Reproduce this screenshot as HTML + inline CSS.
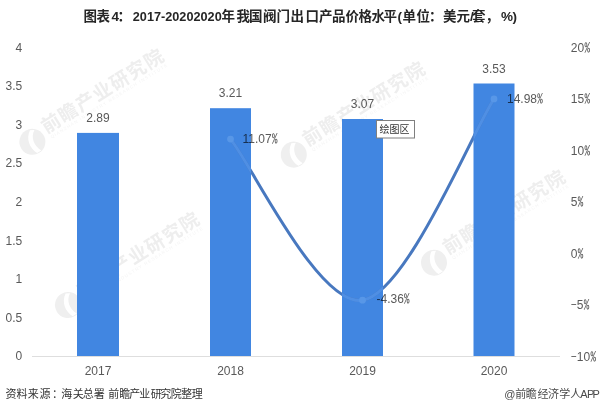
<!DOCTYPE html>
<html><head><meta charset="utf-8">
<style>
html,body{margin:0;padding:0;background:#fff;width:600px;height:410px;overflow:hidden}
svg{display:block}
.ax{font-family:"Liberation Sans",Arial,sans-serif;font-size:12px;fill:#595959}
.xl{font-family:"Liberation Sans",Arial,sans-serif;font-size:12px;fill:#595959}
.dl{font-family:"Liberation Sans",Arial,sans-serif;font-size:12px;fill:#595959;mix-blend-mode:multiply}
.ti{font-family:"Liberation Sans","Noto Sans CJK SC",sans-serif;font-size:13.5px;font-weight:bold;fill:#262626}
.src{font-family:"Liberation Sans","Noto Sans CJK SC",sans-serif;font-size:11px;fill:#333}
.src2{font-family:"Liberation Sans","Noto Sans CJK SC",sans-serif;font-size:11px;fill:#4a4a4a}
.wm{font-family:"Noto Sans CJK SC",sans-serif;font-weight:bold;fill:#eeeeee}
.wme{font-family:"Liberation Sans",sans-serif;fill:#f4f4f4}
</style></head>
<body>
<svg width="600" height="410" viewBox="0 0 600 410">
<rect width="600" height="410" fill="#fff"/>
<defs>
<g id="wm">
<circle cx="0" cy="0" r="13" fill="#efefef"/>
<path d="M4,-11 C-4,-6 -6,4 -2,12 L3,12 C-1,4 1,-5 8,-9 Z" fill="#fff"/>
<text x="16" y="0.8" font-size="19" letter-spacing="1.2" class="wm">前瞻产业研究院</text>
<text x="18" y="7.5" font-size="4.5" letter-spacing="1.1" class="wme">QIANZHAN INDUSTRY RESEARCH INSTITUTE</text>
</g>
</defs>

<use href="#wm" transform="translate(32.4,141.8) rotate(-32)"/>
<use href="#wm" transform="translate(293.8,154.6) rotate(-32)"/>
<use href="#wm" transform="translate(434,262.7) rotate(-32)"/>
<use href="#wm" transform="translate(68,305) rotate(-32)"/>
<text class="ti" y="20.5"><tspan x="83.5 96.5" font-weight="bold">图表</tspan><tspan x="111.5">4</tspan><tspan x="117.5" font-weight="bold">：</tspan><tspan x="132.8" font-size="12.7">2017-20202020</tspan><tspan x="221.5 236.5 249 263 276.5 290.5 305.5 319 332 345.5 358.5 371.5 383.5" font-weight="bold">年我国阀门出口产品价格水平</tspan><tspan x="397.5">(</tspan><tspan x="402.5 416.5 429 443 456.5" font-weight="bold">单位：美元</tspan><tspan x="470">/</tspan><tspan x="472 485.5" font-weight="bold">套，</tspan><tspan x="501 512.4">%)</tspan></text>
<g class="ax" text-anchor="end">
<text x="22.3" y="51.6">4</text>
<text x="22.3" y="90.2">3.5</text>
<text x="22.3" y="128.8">3</text>
<text x="22.3" y="167.4">2.5</text>
<text x="22.3" y="206.0">2</text>
<text x="22.3" y="244.6">1.5</text>
<text x="22.3" y="283.2">1</text>
<text x="22.3" y="321.8">0.5</text>
<text x="22.3" y="360.4">0</text>
</g>
<g class="ax">
<text x="570.8" y="51.8">20<tspan style="font-family:IPAGothic,'Liberation Sans',sans-serif">%</tspan></text>
<text x="570.8" y="103.3">15<tspan style="font-family:IPAGothic,'Liberation Sans',sans-serif">%</tspan></text>
<text x="570.8" y="154.7">10<tspan style="font-family:IPAGothic,'Liberation Sans',sans-serif">%</tspan></text>
<text x="570.8" y="206.2">5<tspan style="font-family:IPAGothic,'Liberation Sans',sans-serif">%</tspan></text>
<text x="570.8" y="257.7">0<tspan style="font-family:IPAGothic,'Liberation Sans',sans-serif">%</tspan></text>
<text x="570.8" y="309.1"><tspan style="font-family:IPAGothic,'Liberation Sans',sans-serif">-</tspan>5<tspan style="font-family:IPAGothic,'Liberation Sans',sans-serif">%</tspan></text>
<text x="570.8" y="360.6"><tspan style="font-family:IPAGothic,'Liberation Sans',sans-serif">-</tspan>10<tspan style="font-family:IPAGothic,'Liberation Sans',sans-serif">%</tspan></text>
</g>
<rect x="32" y="356" width="528" height="1" fill="#dedede"/>
<g fill="#4186e1">
<rect x="77" y="132.9" width="42" height="223.1"/>
<rect x="210" y="108.2" width="41" height="247.8"/>
<rect x="342" y="119.0" width="41" height="237.0"/>
<rect x="473.5" y="83.5" width="41.0" height="272.5"/>
</g>
<defs><clipPath id="cb"><rect x="77" y="60" width="42" height="300"/><rect x="210" y="60" width="41" height="300"/><rect x="342" y="60" width="41" height="300"/><rect x="473.5" y="60" width="41.0" height="300"/></clipPath><path id="ln" d="M230.50,139.12 C252.50,165.97 318.58,306.95 362.50,300.25 C406.42,293.54 472.08,132.43 494.00,98.87" fill="none" stroke-width="3" stroke-linecap="round"/></defs>
<use href="#ln" stroke="#4878bf"/>
<g clip-path="url(#cb)"><use href="#ln" stroke="#4f8fe4"/><circle cx="230.5" cy="139.1" r="3.4" fill="#5897e7"/><circle cx="362.5" cy="300.2" r="3.4" fill="#5897e7"/><circle cx="494.0" cy="98.9" r="3.4" fill="#5897e7"/></g>
<g class="dl" text-anchor="middle">
<text x="98.0" y="122.1">2.89</text>
<text x="230.5" y="97.4">3.21</text>
<text x="362.5" y="108.2">3.07</text>
<text x="494.0" y="72.7">3.53</text>
</g>
<g class="dl">
<text x="242.5" y="143.4">11.07<tspan style="font-family:IPAGothic,'Liberation Sans',sans-serif">%</tspan></text>
<text x="376.5" y="302.8">-4.36<tspan style="font-family:IPAGothic,'Liberation Sans',sans-serif">%</tspan></text>
<text x="507.0" y="103.2">14.98<tspan style="font-family:IPAGothic,'Liberation Sans',sans-serif">%</tspan></text>
</g>
<g class="xl" text-anchor="middle">
<text x="98.0" y="374.5">2017</text>
<text x="230.5" y="374.5">2018</text>
<text x="362.5" y="374.5">2019</text>
<text x="494.0" y="374.5">2020</text>
</g>
<rect x="376.5" y="120.5" width="38" height="17.5" fill="#fff" stroke="#7f7f7f" stroke-width="1"/>
<text x="394.6" y="132.8" text-anchor="middle" style="font-family:'Liberation Sans','Noto Sans CJK SC',sans-serif;font-size:10px;fill:#333">绘图区</text>
<text class="src" y="397.7" x="5.6 16.6 27.8 39.5 52 61.2 72.7 82.7 93.7 104 108.2 119.2 129.3 139.2 150.8 160.2 170.7 181.3 191.8">资料来源：海关总署 前瞻产业研究院整理</text>
<text class="src2" y="398" x="504.2 515.2 525.7 537.6 548 559.3 570.3 580.3 587 592.5">@前瞻经济学人APP</text>
</svg>
</body></html>
